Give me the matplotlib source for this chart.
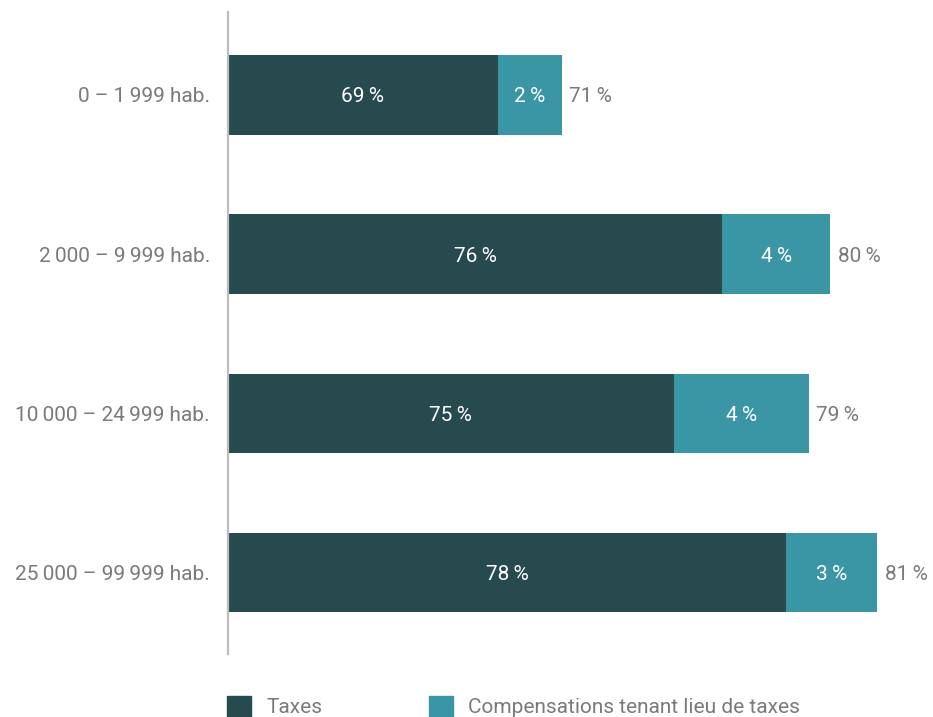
import matplotlib.pyplot as plt
from matplotlib.patches import Patch

plt.rcParams['font.family'] = ['Roboto', 'DejaVu Sans']

# share of revenues by municipality size (%)
categories = ['0 – 1\u2009999 hab.', '2\u2009000 – 9\u2009999 hab.',
              '10\u2009000 – 24\u2009999 hab.', '25\u2009000 – 99\u2009999 hab.']
taxes = [68.9, 76.3, 74.7, 78.4]
compensations = [2.1, 3.55, 4.45, 3.0]
series_names = ['Taxes', 'Compensations tenant lieu de taxes']

dark = '#274a4f'
teal = '#3a96a4'
grey = '#7a7a7a'
fs = 15


def pct(v):
    return f'{v:.0f}\u2009%'


def main():
    fig = plt.figure(figsize=(9.33, 7.17), dpi=100)
    ax = fig.add_axes([228 / 933, 63 / 717, 697.6 / 933, 642 / 717])

    y = list(range(len(categories)))
    totals = [t + c for t, c in zip(taxes, compensations)]
    ax.barh(y, taxes, height=0.5, color=dark, left=0)
    ax.barh(y, compensations, height=0.5, color=teal, left=taxes)

    for i in y:
        ax.text((60 + taxes[i]) / 2, i, pct(taxes[i]), color='white',
                ha='center', va='center_baseline', fontsize=fs)
        ax.text(taxes[i] + compensations[i] / 2, i, pct(compensations[i]),
                color='white', ha='center', va='center_baseline', fontsize=fs)
        ax.text(totals[i] + 0.25, i, pct(totals[i]), color=grey,
                ha='left', va='center_baseline', fontsize=fs)

    ax.set_xlim(60, 83)
    ax.set_ylim(3.511, -0.521)
    ax.set_yticks(y)
    ax.set_yticklabels(categories, fontsize=fs, color=grey,
                       va='center_baseline')
    ax.tick_params(axis='y', length=0, pad=13)
    ax.set_xticks([])
    for s in ['top', 'right', 'bottom']:
        ax.spines[s].set_visible(False)
    ax.spines['left'].set_color('#bdbdbd')
    ax.spines['left'].set_linewidth(1.6)

    handles = [Patch(color=dark), Patch(color=teal)]
    fig.legend(handles, series_names, loc='upper left', ncol=2,
               bbox_to_anchor=(227 / 933, 1 - 696 / 717), frameon=False,
               fontsize=fs, labelcolor=grey, handlelength=1.15,
               handleheight=1.15, handletextpad=0.75, columnspacing=5.1,
               borderpad=0, borderaxespad=0)

    fig.savefig('out.png', dpi=100)


if __name__ == "__main__":
    main()
